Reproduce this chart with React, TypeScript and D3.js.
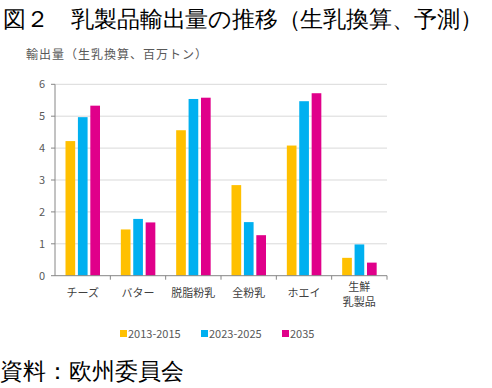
import React from 'react'
import * as d3 from 'd3'

const categories = ['チーズ', 'バター', '脱脂粉乳', '全粉乳', 'ホエイ', '生鮮乳製品']
const categoryLines = [['チーズ'], ['バター'], ['脱脂粉乳'], ['全粉乳'], ['ホエイ'], ['生鮮', '乳製品']]
const seriesNames = ['2013-2015', '2023-2025', '2035']
const seriesColors = ['#FFC000', '#00B0F0', '#E0008A']
const v2013 = [4.22, 1.45, 4.56, 2.84, 4.08, 0.56]
const v2023 = [4.97, 1.78, 5.54, 1.68, 5.47, 0.98]
const v2035 = [5.33, 1.67, 5.58, 1.27, 5.72, 0.41]
const yTicks = [0, 1, 2, 3, 4, 5, 6]

const title = '図２　乳製品輸出量の推移（生乳換算、予測）'
const yLabel = '輸出量（生乳換算、百万トン）'
const source = '資料：欧州委員会'

export default function App() {
  const width = 492
  const height = 388
  const values = [v2013, v2023, v2035]

  const x = d3.scaleBand().domain(categories).range([55, 387]).padding(0)
  const x1 = d3.scaleBand().domain(seriesNames).range([10.5, 45]).paddingInner(0.22)
  const y = d3.scaleLinear().domain([0, 6]).range([275.7, 84.3])

  const gray = '#595959'
  const sans = '"Noto Sans CJK JP", "Noto Sans", sans-serif'

  // legend layout
  const legendX = [120, 201, 282]

  return (
    <svg width={width} height={height} style={{position: 'absolute', left: 0, top: 0, background: '#fff'}}>
      <text x={3} y={27} fontSize={23} textLength={480} lengthAdjust='spacing' fontFamily='serif' fontWeight={300} fill='#000'>{title}</text>
      <text x={26} y={59} fontSize={12} letterSpacing={1} fontFamily={sans} fill={gray}>{yLabel}</text>

      {yTicks.map(t => (
        <g key={t}>
          {t > 0 && <line x1={55} x2={387} y1={y(t)} y2={y(t)} stroke='#D9D9D9' strokeWidth={1} />}
          <line x1={51} x2={55} y1={y(t)} y2={y(t)} stroke='#868686' />
          <text x={45} y={y(t)} dy='0.35em' textAnchor='end' fontSize={11} fontFamily={sans} fill={gray}>{t}</text>
        </g>
      ))}

      {values.map((vals, si) => (
        <g key={si} fill={seriesColors[si]}>
          {vals.map((v, ci) => (
            <rect key={ci}
              x={(x(categories[ci]) as number) + (x1(seriesNames[si]) as number)}
              y={y(v)}
              width={x1.bandwidth()}
              height={y(0) - y(v)} />
          ))}
        </g>
      ))}

      <line x1={55} x2={55} y1={y(6)} y2={y(0)} stroke='#868686' />
      <line x1={55} x2={387} y1={y(0)} y2={y(0)} stroke='#868686' />
      {categories.map((c) => (
        <line key={c} x1={(x(c) as number) + x.bandwidth()} x2={(x(c) as number) + x.bandwidth()}
          y1={y(0)} y2={y(0) + 4} stroke='#868686' />
      ))}

      {categories.map((c, i) => {
        const lines = categoryLines[i]
        const cx = (x(c) as number) + x.bandwidth() / 2
        return (
          <text key={c} x={cx} textAnchor='middle' fontSize={11} fontFamily={sans} fill='#404040'>
            {lines.map((l, li) => (
              <tspan key={li} x={cx} y={lines.length === 1 ? 297 : 291 + li * 15}>{l}</tspan>
            ))}
          </text>
        )
      })}

      {seriesNames.map((s, i) => (
        <g key={s}>
          <rect x={legendX[i]} y={330} width={7} height={7} fill={seriesColors[i]} />
          <text x={legendX[i] + 8} y={338} fontSize={11} fontFamily={sans} fill={gray}>{s}</text>
        </g>
      ))}

      <text x={0} y={379} fontSize={23} fontFamily='serif' fontWeight={300} fill='#000'>{source}</text>
    </svg>
  )
}
